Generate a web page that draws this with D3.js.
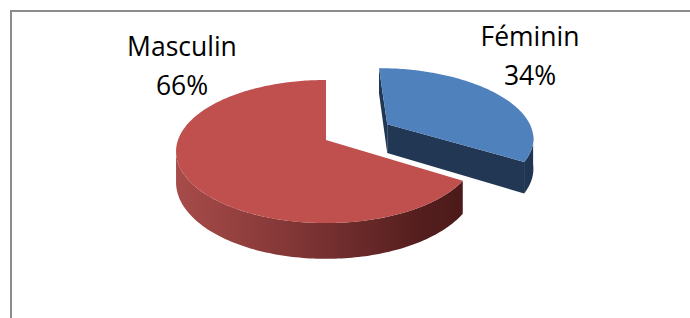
<!DOCTYPE html>
<html>
<head>
<meta charset="utf-8">
<script src="https://cdn.jsdelivr.net/npm/d3@7"></script>
<style>
  body { margin: 0; background: #fff; }
  text { font-family: "Open Sans", sans-serif; }
</style>
</head>
<body>
<div id="Chart"></div>
<script>
// data
const categories = ["Féminin", "Masculin"]
const values = [34, 66]
const exploded = "Féminin"

const Width = 690, Height = 318
const svg = d3.select("#Chart").append("svg")
    .attr("width", Width)
    .attr("height", Height)

// chart frame (only top and left edges fall inside the window)
svg.append("rect")
    .attr("x", 11).attr("y", 11)
    .attr("width", Width).attr("height", Height)
    .attr("fill", "none")
    .attr("stroke", "#8c8c8c")
    .attr("stroke-width", 2)

// 3d pie geometry
const cx = 326, cy = 140, R = 148, Ry = 69.7
const k = 0.161      // perspective strength
const depth = 30     // thickness of the disc
const offset = 0.49  // explosion, in radius units

const X = d3.scaleLinear().domain([-1, 1]).range([cx - R, cx + R])
const Y = d3.scaleLinear().domain([-1, 1]).range([cy + Ry, cy - Ry])
const proj = (u, w, dz) => {
  const s = 1 / (1 + k * w)
  return [X(u * s), Y(w * s) + dz * s]
}

const data = categories.map((c, i) => ({cat: c, value: values[i]}))
const total = d3.sum(values)
const pie = d3.pie().sort(null).value(d => d.value)
const arcs = pie(data)
const line = d3.line()

const colors = {
  "Féminin": {top: "#4f81bd", side: "#1f3552", wall: "#213754"},
  "Masculin": {top: "#c0504d", side: "url(#redSide)", wall: "#6e2a2a"}
}

const defs = svg.append("defs")
const grad = defs.append("linearGradient")
    .attr("id", "redSide")
    .attr("gradientUnits", "userSpaceOnUse")
    .attr("x1", 174).attr("x2", 462).attr("y1", 0).attr("y2", 0)
grad.selectAll("stop")
  .data([[0, "#a84c4a"], [0.45, "#7e3434"], [0.85, "#551e1e"], [1, "#4c1a1a"]])
  .enter().append("stop")
    .attr("offset", d => d[0])
    .attr("stop-color", d => d[1])

const sample = (a0, a1) => {
  const n = Math.max(2, Math.ceil(Math.abs(a1 - a0) / 0.02))
  return d3.range(n + 1).map(i => a0 + (a1 - a0) * i / n)
}

// outer side visible between the two silhouette angles
const visA = Math.PI / 2 + Math.asin(k), visB = 3 * Math.PI / 2 - Math.asin(k)

const g = svg.append("g")
arcs.forEach(d => {
  const off = d.data.cat === exploded ? offset : 0
  const mid = (d.startAngle + d.endAngle) / 2
  const ou = off * Math.sin(mid), ow = off * Math.cos(mid)
  const rim = (a, dz) => proj(ou + Math.sin(a), ow + Math.cos(a), dz)
  const ctr = dz => proj(ou, ow, dz)
  const col = colors[d.data.cat]
  const slice = g.append("g")

  // radial walls facing the viewer
  const walls = [
    {a: d.startAngle, nw: Math.sin(d.startAngle)},
    {a: d.endAngle, nw: -Math.sin(d.endAngle)}
  ]
  walls.filter(wl => wl.nw <= 0.01).forEach(wl => {
    slice.append("path")
      .attr("d", line([ctr(0), rim(wl.a, 0), rim(wl.a, depth), ctr(depth)]) + "Z")
      .attr("fill", col.wall)
  })

  // curved outer side
  const s0 = Math.max(d.startAngle, visA), s1 = Math.min(d.endAngle, visB)
  if (s1 > s0) {
    const angs = sample(s0, s1)
    const pts = angs.map(a => rim(a, 0)).concat(angs.slice().reverse().map(a => rim(a, depth)))
    slice.append("path")
      .attr("d", line(pts) + "Z")
      .attr("fill", col.side)
  }

  // top face
  const topPts = [ctr(0)].concat(sample(d.startAngle, d.endAngle).map(a => rim(a, 0)))
  slice.append("path")
    .attr("d", line(topPts) + "Z")
    .attr("fill", col.top)
})

// data labels
const labelPos = {"Féminin": [530, 45.5], "Masculin": [182, 56]}
const pct = d3.format(".0%")
arcs.forEach(d => {
  const [lx, ly] = labelPos[d.data.cat]
  const t = svg.append("text")
      .attr("text-anchor", "middle")
      .attr("font-size", 26.5)
      .attr("fill", "#000")
  t.append("tspan").attr("x", lx).attr("y", ly).text(d.data.cat)
  t.append("tspan").attr("x", lx).attr("y", ly + 39).text(pct(d.value / total))
})
</script>
</body>
</html>
